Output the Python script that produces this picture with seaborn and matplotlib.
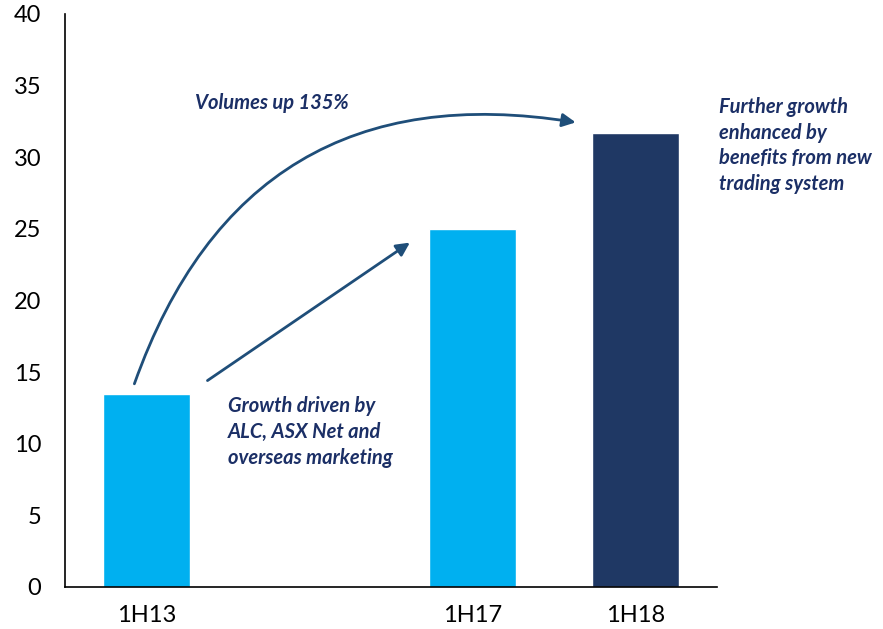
import matplotlib
matplotlib.use("Agg")
import matplotlib.pyplot as plt
import seaborn as sns
import pandas as pd

# chart data
periods = ["1H13", "1H17", "1H18"]
volumes = [13.5, 25.0, 31.7]
slot_order = ["1H13", " ", "1H17", "1H18"]   # blank slot between 1H13 and 1H17
bar_colors = {"1H13": "#00B0F0", "1H17": "#00B0F0", "1H18": "#1F3864"}
y_ticks = [0, 5, 10, 15, 20, 25, 30, 35, 40]

note_total = "Volumes up 135%"
note_early = "Growth driven by\nALC, ASX Net and\noverseas marketing"
note_late = "Further growth\nenhanced by\nbenefits from new\ntrading system"

sns.set_theme(style="white")
plt.rcParams["font.family"] = ["Lato", "DejaVu Sans"]

df = pd.DataFrame({"period": periods, "volume": volumes})

fig = plt.figure(figsize=(8.83, 6.29), dpi=100)
ax = fig.add_axes([0.0736, 0.0668, 0.7384, 0.911])

sns.barplot(data=df, x="period", y="volume", hue="period", order=slot_order,
            palette=bar_colors, width=0.53, saturation=1, legend=False, ax=ax)

ax.set_xlim(-0.5, 3.5)
ax.set_ylim(0, 40)
ax.set_yticks(y_ticks)
ax.set_xlabel("")
ax.set_ylabel("")
ax.tick_params(axis="both", length=0, labelsize=17, colors="black")
ax.tick_params(axis="x", pad=13)
ax.tick_params(axis="y", pad=17)
sns.despine(ax=ax)
for side in ["left", "bottom"]:
    ax.spines[side].set_color("black")
    ax.spines[side].set_linewidth(1.2)

navy = "#1B2F66"
arrow_col = "#1F4E79"
txt = dict(color=navy, fontsize=14.5, fontweight="bold", fontstyle="italic",
           linespacing=1.35)

# curved arrow 1H13 -> 1H18
ax.annotate("", xy=(2.65, 32.4), xytext=(-0.08, 14.0),
            arrowprops=dict(arrowstyle="-|>", color=arrow_col, lw=2,
                            mutation_scale=20,
                            connectionstyle="arc3,rad=-0.42"))
# straight arrow 1H13 -> 1H17
ax.annotate("", xy=(1.63, 24.15), xytext=(0.36, 14.3),
            arrowprops=dict(arrowstyle="-|>", color=arrow_col, lw=2,
                            mutation_scale=20))

ax.text(0.30, 33.8, note_total, ha="left", va="center", **txt)
ax.text(0.50, 13.3, note_early, ha="left", va="top", **txt)
ax.text(3.51, 34.2, note_late, ha="left", va="top", clip_on=False, **txt)

fig.savefig("out.png", dpi=100)
